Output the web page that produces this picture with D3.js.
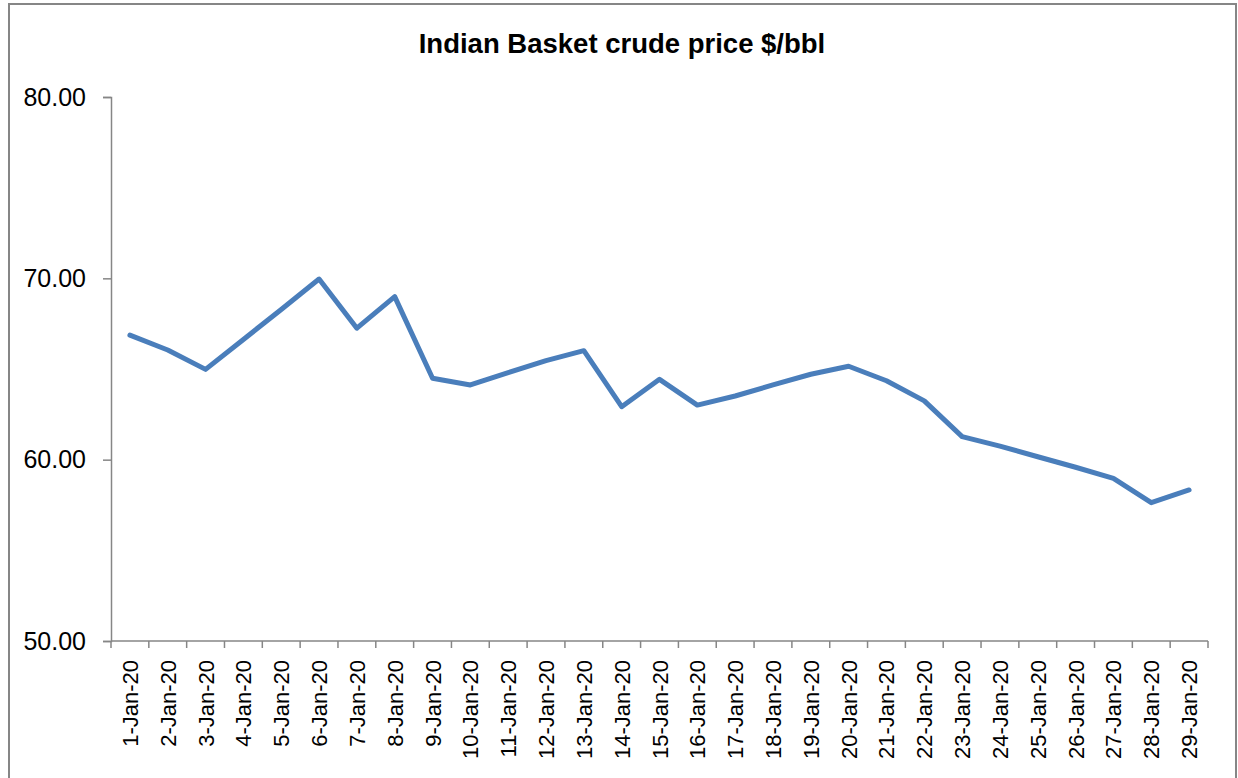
<!DOCTYPE html>
<html>
<head>
<meta charset="utf-8">
<script src="https://cdn.jsdelivr.net/npm/d3@7"></script>
<style>
  html, body { margin: 0; padding: 0; background: #fff; }
  svg { display: block; }
</style>
</head>
<body>
<svg id="chart" width="1238" height="778"></svg>
<script>
const title = "Indian Basket crude price $/bbl";
const categories = ["1-Jan-20","2-Jan-20","3-Jan-20","4-Jan-20","5-Jan-20","6-Jan-20","7-Jan-20","8-Jan-20","9-Jan-20","10-Jan-20","11-Jan-20","12-Jan-20","13-Jan-20","14-Jan-20","15-Jan-20","16-Jan-20","17-Jan-20","18-Jan-20","19-Jan-20","20-Jan-20","21-Jan-20","22-Jan-20","23-Jan-20","24-Jan-20","25-Jan-20","26-Jan-20","27-Jan-20","28-Jan-20","29-Jan-20"];
const prices = [66.87,66.05,64.98,66.63,68.28,69.96,67.25,68.99,64.49,64.12,64.80,65.46,66.01,62.92,64.43,63.01,63.51,64.12,64.71,65.15,64.35,63.24,61.27,60.75,60.16,59.58,58.97,57.63,58.33];
const yTicks = [50, 60, 70, 80];

const svg = d3.select("#chart");
const plotLeft = 111, plotRight = 1208, plotTop = 97, plotBottom = 641;
const axisColor = "#868686";

// outer frame
svg.append("rect").attr("x", 9).attr("y", 4).attr("width", 1227).attr("height", 800)
  .attr("fill", "none").attr("stroke", axisColor).attr("stroke-width", 2);

svg.append("text").attr("x", 622).attr("y", 53).attr("text-anchor", "middle")
  .attr("font-family", "Liberation Sans, Arial, sans-serif").attr("font-weight", "bold")
  .attr("font-size", 27.5).attr("fill", "#000").text(title);

const x = d3.scaleBand().domain(categories).range([plotLeft, plotRight]).padding(0);
const y = d3.scaleLinear().domain([50, 80]).range([plotBottom, plotTop]);

// y axis
const yAxis = svg.append("g").attr("transform", `translate(${plotLeft},0)`)
  .call(d3.axisLeft(y).tickValues(yTicks).tickFormat(d3.format(".2f")).tickSize(8).tickPadding(17));
yAxis.select(".domain").attr("stroke", axisColor).attr("stroke-width", 1.5);
yAxis.selectAll(".tick line").attr("stroke", axisColor).attr("stroke-width", 1.5);
yAxis.selectAll("text").attr("font-family", "Liberation Sans, Arial, sans-serif")
  .attr("font-size", 25).attr("fill", "#000");

// x axis: ticks between categories
const xg = svg.append("g").attr("transform", `translate(0,${plotBottom})`);
xg.append("line").attr("x1", plotLeft).attr("x2", plotRight).attr("y1", 0).attr("y2", 0)
  .attr("stroke", axisColor).attr("stroke-width", 1.5);
const bounds = categories.map(c => x(c)).concat([x(categories[categories.length-1]) + x.bandwidth()]);
xg.selectAll("line.tk").data(bounds).enter().append("line").attr("class", "tk")
  .attr("x1", d => d).attr("x2", d => d).attr("y1", 0).attr("y2", 7)
  .attr("stroke", axisColor).attr("stroke-width", 1.5);
xg.selectAll("text.lbl").data(categories).enter().append("text").attr("class", "lbl")
  .attr("transform", d => `translate(${x(d) + x.bandwidth()/2 + 8},19) rotate(-90)`)
  .attr("text-anchor", "end")
  .attr("font-family", "Liberation Sans, Arial, sans-serif").attr("font-size", 22).attr("fill", "#000")
  .text(d => d);

// line
const line = d3.line().x((d, i) => x(categories[i]) + x.bandwidth()/2).y(d => y(d));
svg.append("path").datum(prices).attr("d", line).attr("fill", "none")
  .attr("stroke", "#4a7ebb").attr("stroke-width", 5)
  .attr("stroke-linejoin", "round").attr("stroke-linecap", "round");
</script>
</body>
</html>
